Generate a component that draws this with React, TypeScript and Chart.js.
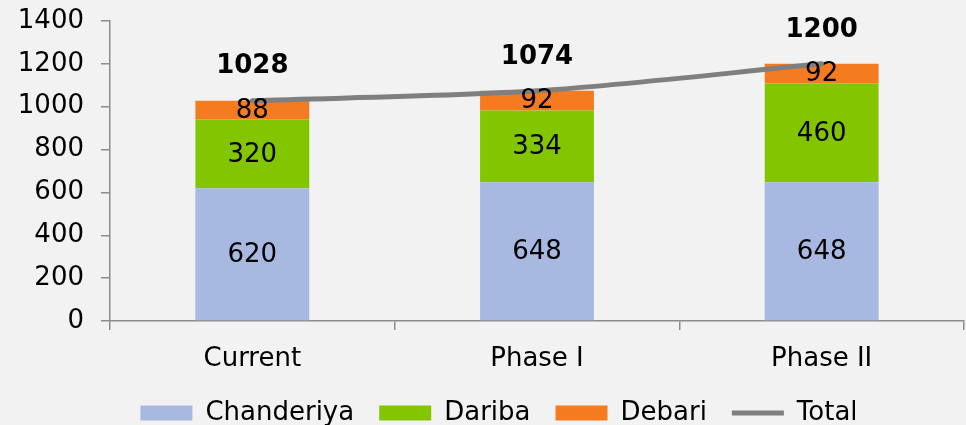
import React, { useEffect, useRef } from "react";
import { Chart, registerables } from "chart.js";

Chart.register(...registerables);

const categories = ["Current", "Phase I", "Phase II"];
const chanderiya = [620, 648, 648];
const dariba = [320, 334, 460];
const debari = [88, 92, 92];
const total = [1028, 1074, 1200];
const yTicks = [0, 200, 400, 600, 800, 1000, 1200, 1400];

const FONT = '"DejaVu Sans", Verdana, sans-serif';
const AXIS = "#8c8c8c";

const labelPlugin = {
  id: "valueLabels",
  afterLayout(chart: any) {
    // keep y tick labels from being clipped by the narrower scale box
    chart.scales.y.left = 0;
  },
  afterDatasetsDraw(chart: any) {
    const ctx = chart.ctx;
    ctx.save();
    ctx.textAlign = "center";
    ctx.textBaseline = "middle";
    ctx.fillStyle = "#000";
    ctx.font = `26px ${FONT}`;
    const series = [chanderiya, dariba, debari];
    for (let d = 0; d < 3; d++) {
      const meta = chart.getDatasetMeta(d);
      meta.data.forEach((bar: any, i: number) => {
        const p = bar.getProps(["x", "y", "base"], true);
        ctx.fillText(String(series[d][i]), p.x, (p.y + p.base) / 2 + 1);
      });
    }
    ctx.font = `bold 26px ${FONT}`;
    const lm = chart.getDatasetMeta(3);
    lm.data.forEach((pt: any, i: number) => {
      ctx.fillText(String(total[i]), pt.x, pt.y - 34);
    });
    ctx.restore();
  },
};

export default function App() {
  const ref = useRef<HTMLCanvasElement | null>(null);
  useEffect(() => {
    document.body.style.margin = "0";
    document.body.style.overflow = "hidden";
    document.body.style.background = "#f2f2f2";
    const chart = new Chart(ref.current!, {
      type: "bar",
      data: {
        labels: categories,
        datasets: [
          {
            label: "Chanderiya",
            data: chanderiya,
            backgroundColor: "#a7b9e1",
            borderWidth: 0,
            pointStyle: "rect",
            order: 1,
          } as any,
          {
            label: "Dariba",
            data: dariba,
            backgroundColor: "#83c600",
            borderWidth: 0,
            pointStyle: "rect",
            order: 1,
          },
          {
            label: "Debari",
            data: debari,
            backgroundColor: "#f47b20",
            borderWidth: 0,
            pointStyle: "rect",
            order: 1,
          },
          {
            type: "line",
            label: "Total",
            data: total,
            borderColor: "#7f7f7f",
            backgroundColor: "#7f7f7f",
            borderWidth: 5,
            borderCapStyle: "round",
            pointRadius: 0,
            pointStyle: "line",
            tension: 0.3,
            order: 0,
            stack: "line",
          },
        ],
      },
      options: {
        animation: false,
        responsive: true,
        maintainAspectRatio: false,
        layout: { padding: { top: 21, left: 34, right: 2, bottom: 0 } },
        datasets: { bar: { barPercentage: 0.8, categoryPercentage: 0.5 } },
        plugins: {
          tooltip: { enabled: false },
          legend: {
            position: "bottom",
            labels: {
              usePointStyle: true,
              pointStyleWidth: 52,
              boxHeight: 15,
              padding: 25,
              color: "#000",
              font: { family: FONT, size: 26 },
              sort: (a: any, b: any) => a.datasetIndex - b.datasetIndex,
            },
          },
        },
        scales: {
          x: {
            stacked: true,
            grid: {
              drawOnChartArea: false,
              drawTicks: true,
              tickLength: 9,
              color: AXIS,
              lineWidth: 1.5,
            },
            border: { display: true, color: AXIS, width: 1.5 },
            ticks: {
              color: "#000",
              font: { family: FONT, size: 26 },
              padding: 14,
            },
            afterFit(scale: any) {
              scale.height = 54;
              scale.paddingLeft = 0;
              scale.paddingRight = 0;
            },
          },
          y: {
            stacked: true,
            min: 0,
            max: 1400,
            afterBuildTicks(scale: any) {
              scale.ticks = yTicks.map((v) => ({ value: v }));
            },
            grid: {
              drawOnChartArea: false,
              drawTicks: true,
              tickLength: 9,
              color: AXIS,
              lineWidth: 1.5,
            },
            border: { display: true, color: AXIS, width: 1.5 },
            ticks: {
              color: "#000",
              font: { family: FONT, size: 26 },
              padding: 17,
              callback: (v: any) => String(v),
            },
            afterFit(scale: any) {
              scale.width = 76;
              scale.paddingTop = 0;
              scale.paddingBottom = 0;
            },
          },
        },
      },
      plugins: [labelPlugin],
    } as any);
    return () => chart.destroy();
  }, []);
  return (
    <div style={{ width: 966, height: 425, overflow: "hidden", background: "#f2f2f2" }}>
      <div style={{ width: 966, height: 436, position: "relative" }}>
        <canvas ref={ref} />
      </div>
    </div>
  );
}
